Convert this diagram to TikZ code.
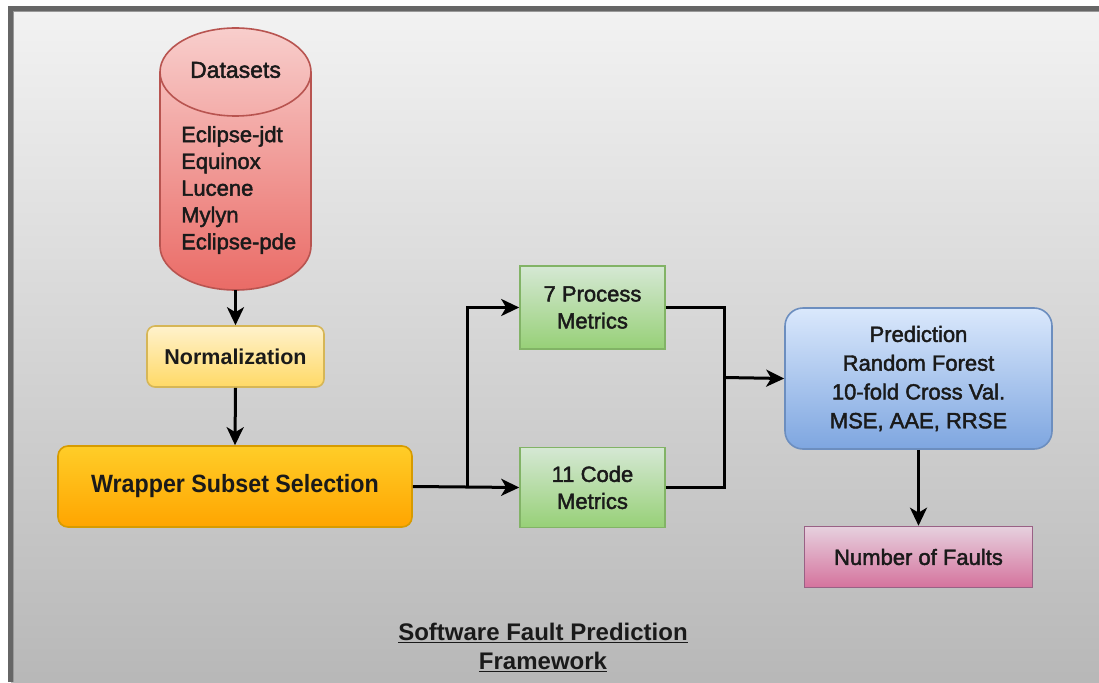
\documentclass[tikz,border=0pt]{standalone}
\usepackage{fontspec}
\setmainfont{Liberation Sans}
\newfontfamily\mf[FakeBold=2]{Liberation Sans}
\newfontfamily\nf[FakeStretch=0.93]{Liberation Sans}
\usetikzlibrary{arrows.meta}
\definecolor{frame}{HTML}{666666}
\definecolor{cylT}{HTML}{F8CECC}\definecolor{cylB}{HTML}{EA6B66}\definecolor{cylD}{HTML}{B85450}
\definecolor{yelT}{HTML}{FFF2CC}\definecolor{yelB}{HTML}{FFD966}\definecolor{yelD}{HTML}{D6B656}
\definecolor{orT}{HTML}{FFCD28}\definecolor{orB}{HTML}{FFA500}\definecolor{orD}{HTML}{D79B00}
\definecolor{grT}{HTML}{D5E8D4}\definecolor{grB}{HTML}{97D077}\definecolor{grD}{HTML}{82B366}
\definecolor{blT}{HTML}{DAE8FC}\definecolor{blB}{HTML}{7EA6E0}\definecolor{blD}{HTML}{6C8EBF}
\definecolor{pkT}{HTML}{E6D0DE}\definecolor{pkB}{HTML}{D5739D}\definecolor{pkD}{HTML}{996185}
\definecolor{txt}{HTML}{1A1A1A}
\tikzset{
  box/.style={draw, line width=1.6pt, align=center, inner sep=0pt, text=txt,
    font=\mf\fontsize{22}{27}\selectfont},
  yelbox/.style={box, top color=yelT, bottom color=yelB, draw=yelD, rounded corners=8pt},
  orbox/.style={box, top color=orT, bottom color=orB, draw=orD, rounded corners=10pt},
  grbox/.style={box, top color=grT, bottom color=grB, draw=grD},
  blbox/.style={box, top color=blT, bottom color=blB, draw=blD, rounded corners=18pt},
  pkbox/.style={box, top color=pkT, bottom color=pkB, draw=pkD},
  conn/.style={line width=3pt, black},
  arr/.style={conn, -{Stealth[length=18pt,width=17pt,inset=5pt]}},
}
\begin{document}
\begin{tikzpicture}[x=1pt,y=-1pt]
\useasboundingbox (0,0) rectangle (1099,682);
% background
\shade[top color=black!5, bottom color=black!28] (11,9) rectangle (1099,682);
\draw[frame, line width=5pt] (10.5,682) -- (10.5,8.5) -- (1099,8.5);
\draw[black!40, line width=1pt] (13.5,682) -- (13.5,11.5) -- (1099,11.5);
% cylinder
\shade[top color=cylT, bottom color=cylB, draw=cylD, line width=1.6pt]
  (160,72) -- (160,246)
  arc[start angle=180, end angle=360, x radius=75.5pt, y radius=44pt]
  -- (311,72)
  arc[start angle=0, end angle=180, x radius=75.5pt, y radius=44pt] -- cycle;
\draw[cylD, line width=1.6pt] (160,72) arc[start angle=180, end angle=360, x radius=75.5pt, y radius=44pt];
\node[minimum width=151, minimum height=262, inner sep=0pt] (ds) at (235.5,159) {};
\node[text=txt, font=\mf\fontsize{23}{26}\selectfont] (dstitle) at (235.5,70) {Datasets};
\node[text=txt, anchor=west, align=left, inner sep=0pt,
  font=\mf\fontsize{22}{26.8}\selectfont] (dslist) at (181,190)
  {Eclipse-jdt\\Equinox\\Lucene\\Mylyn\\Eclipse-pde};
% boxes
\node[yelbox, minimum width=177, minimum height=61, font=\bfseries\fontsize{21.5}{27}\selectfont] (norm) at (235.5,356.5) {Normalization};
\node[orbox, minimum width=354, minimum height=81, font=\nf\bfseries\fontsize{25}{30}\selectfont] (wrap) at (235,486.5) {Wrapper Subset Selection};
\node[grbox, minimum width=145, minimum height=83] (proc) at (592.5,307.5) {7 Process\\Metrics};
\node[grbox, minimum width=145, minimum height=80] (code) at (592.5,487.5) {11 Code\\Metrics};
\node[blbox, minimum width=267, minimum height=141, font=\mf\fontsize{22}{28.8}\selectfont] (pred) at (918.5,378.5)
  {Prediction\\Random Forest\\10-fold Cross Val.\\MSE, AAE, RRSE};
\node[pkbox, minimum width=228, minimum height=61] (faults) at (918.5,557) {Number of Faults};
% title
\node[text=txt, align=center, font=\bfseries\fontsize{24}{29}\selectfont] (title) at (543,647)
  {\underline{Software Fault Prediction}\\\underline{Framework}};
% connectors
\draw[arr] (ds.south) -- (norm.north);
\draw[arr] (norm.south) -- (wrap.north);
\draw[arr] (wrap.east) -- (code.west);
\coordinate (split) at (467,487.5);
\draw[arr] (split) |- (proc.west);
\coordinate (merge) at (724,377.5);
\draw[conn] (proc.east) -| (merge);
\draw[conn] (code.east) -| (merge);
\draw[arr] (merge) -- (pred.west);
\draw[arr] (pred.south) -- (faults.north);
\end{tikzpicture}
\end{document}
